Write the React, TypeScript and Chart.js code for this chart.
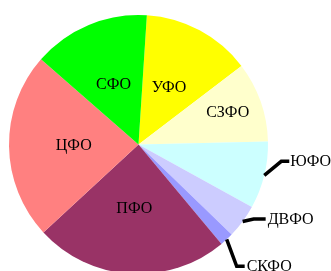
import React, { useEffect, useRef } from "react";
import { Chart, registerables } from "chart.js";

Chart.register(...registerables);

const categories = ["УФО", "СЗФО", "ЮФО", "ДВФО", "СКФО", "ПФО", "ЦФО", "СФО"];
const values = [13.6, 10.0, 8.4, 4.2, 1.7, 24.2, 23.3, 14.6];
const colors = ["#FFFF00", "#FFFFCC", "#CCFFFF", "#CCCCFF", "#9999FF", "#993366", "#FF8080", "#00FF00"];

// label placement (style): inside labels at radial fraction, outside labels with leader lines
const insideFraction: Record<string, number> = { "СЗФО": 0.73 };
const outsideLabels: Record<string, { elbow: [number, number]; end: [number, number]; textX: number }> = {
  "ЮФО": { elbow: [17, -14], end: [25, -14], textX: 26 },
  "ДВФО": { elbow: [11, -2.5], end: [23, -2.5], textX: 25 },
  "СКФО": { elbow: [10, 27], end: [18, 27], textX: 20 },
};

const labelPlugin = {
  id: "pieLabels",
  afterDraw(chart: any) {
    const ctx = chart.ctx;
    const meta = chart.getDatasetMeta(0);
    ctx.save();
    ctx.font = "16px 'Liberation Serif', 'Times New Roman', serif";
    ctx.fillStyle = "#000";
    ctx.textBaseline = "middle";
    meta.data.forEach((arc: any, i: number) => {
      const name = chart.data.labels[i];
      const mid = (arc.startAngle + arc.endAngle) / 2;
      const R = arc.outerRadius;
      const out = outsideLabels[name];
      if (out) {
        const ex = arc.x + Math.cos(mid) * R;
        const ey = arc.y + Math.sin(mid) * R;
        ctx.strokeStyle = "#000";
        ctx.lineWidth = 3.5;
        ctx.lineJoin = "miter";
        ctx.beginPath();
        ctx.moveTo(ex, ey);
        ctx.lineTo(ex + out.elbow[0], ey + out.elbow[1]);
        ctx.lineTo(ex + out.end[0], ey + out.end[1]);
        ctx.stroke();
        ctx.textAlign = "left";
        ctx.fillText(name, ex + out.textX, ey + out.end[1] + 0.5);
      } else {
        const f = insideFraction[name] ?? 0.5;
        ctx.textAlign = "center";
        ctx.fillText(name, arc.x + Math.cos(mid) * R * f, arc.y + Math.sin(mid) * R * f);
      }
    });
    ctx.restore();
  },
};

export default function App() {
  const ref = useRef<HTMLCanvasElement>(null);
  useEffect(() => {
    if (!ref.current) return;
    const chart = new Chart(ref.current, {
      type: "pie",
      data: {
        labels: categories,
        datasets: [
          {
            data: values,
            backgroundColor: colors,
            borderWidth: 0,
            hoverOffset: 0,
          },
        ],
      },
      options: {
        responsive: false,
        animation: false,
        rotation: 3.7,
        layout: { padding: { left: 9, top: 15, right: 63, bottom: 6 } },
        plugins: {
          legend: { display: false },
          tooltip: { enabled: false },
        },
      },
      plugins: [labelPlugin],
    });
    return () => chart.destroy();
  }, []);
  return (
    <div style={{ position: "absolute", left: 0, top: 0, width: 331, height: 271, overflow: "hidden", background: "#fff" }}>
      <canvas ref={ref} width={331} height={280} style={{ display: "block", width: 331, height: 280 }} />
    </div>
  );
}
